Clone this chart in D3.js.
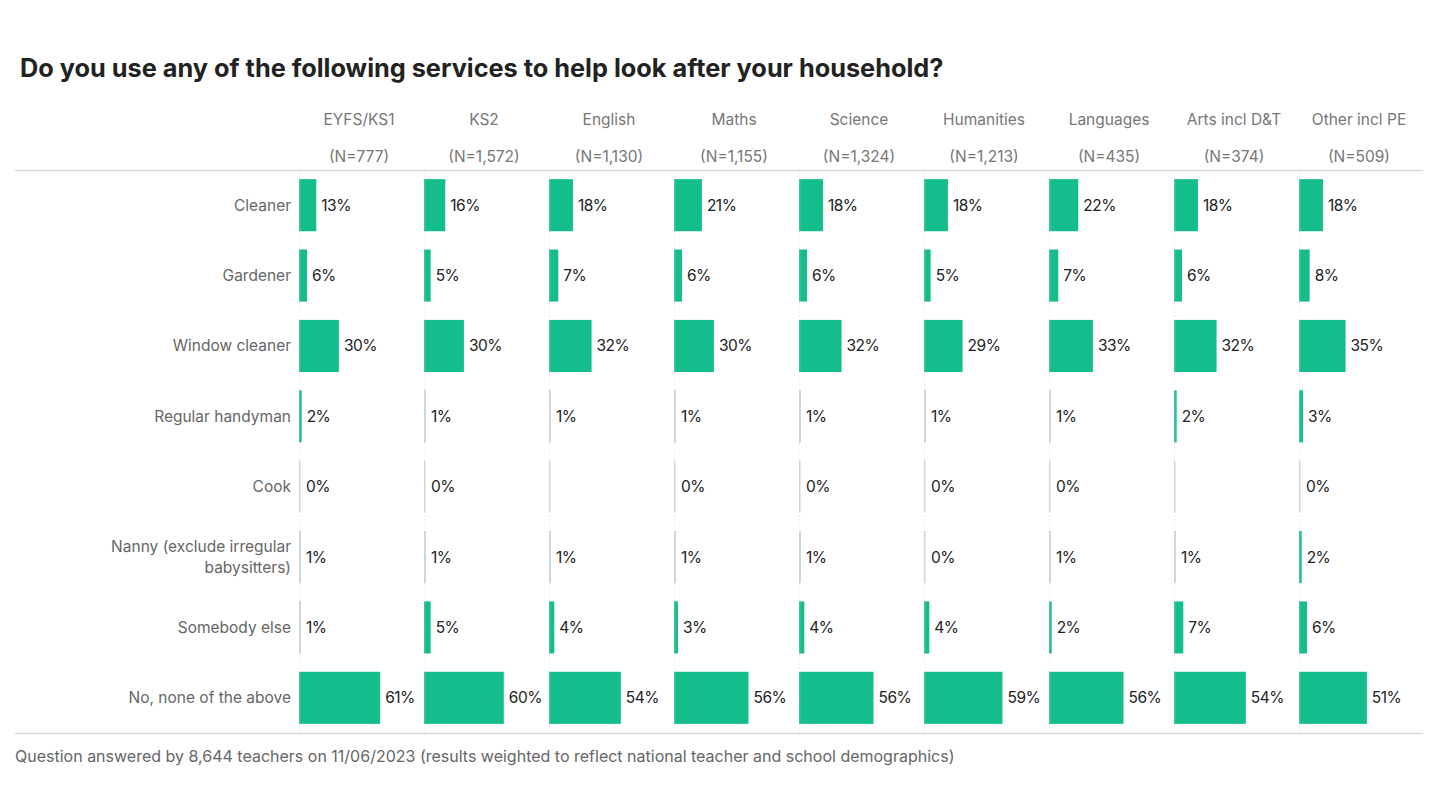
<!DOCTYPE html>
<html>
<head>
<meta charset="utf-8">
<script src="https://cdn.jsdelivr.net/npm/d3@7"></script>
<style>
  body { margin: 0; background: #fff; }
  text { font-family: "Inter", "Open Sans", sans-serif; }
</style>
</head>
<body>
<script>
// Data
const groups = ["EYFS/KS1", "KS2", "English", "Maths", "Science", "Humanities", "Languages", "Arts incl D&T", "Other incl PE"];
const groupN = ["(N=777)", "(N=1,572)", "(N=1,130)", "(N=1,155)", "(N=1,324)", "(N=1,213)", "(N=435)", "(N=374)", "(N=509)"];
const services = ["Cleaner", "Gardener", "Window cleaner", "Regular handyman", "Cook",
                  "Nanny (exclude irregular|babysitters)", "Somebody else", "No, none of the above"];

const cleaner   = [13, 16, 18, 21, 18, 18, 22, 18, 18];
const gardener  = [6, 5, 7, 6, 6, 5, 7, 6, 8];
const window_   = [30, 30, 32, 30, 32, 29, 33, 32, 35];
const handyman  = [2, 1, 1, 1, 1, 1, 1, 2, 3];
const cook      = [0, 0, null, 0, 0, 0, 0, null, 0];
const nanny     = [1, 1, 1, 1, 1, 0, 1, 1, 2];
const somebody  = [1, 5, 4, 3, 4, 4, 2, 7, 6];
const none      = [61, 60, 54, 56, 56, 59, 56, 54, 51];

const seriesRows = [cleaner, gardener, window_, handyman, cook, nanny, somebody, none];

const width = 1440, height = 785;
const green = "#14bd8c";

const svg = d3.select("body").append("svg")
  .attr("width", width)
  .attr("height", height);

// Title
svg.append("text")
  .attr("x", 20).attr("y", 77)
  .attr("font-size", 25.3).attr("font-weight", 700)
  .attr("fill", "#222")
  .text("Do you use any of the following services to help look after your household?");

const colX = d3.scaleBand().domain(groups).range([299, 1424]);
const rowY = d3.scaleBand().domain(services).range([170, 733]).paddingInner(0.26).paddingOuter(0.13);
const x = d3.scaleLinear().domain([0, 100]).range([0, 133]);

// Column headers
svg.selectAll(".head").data(groups).join("text")
  .attr("x", d => colX(d) + 60).attr("y", 125)
  .attr("text-anchor", "middle").attr("font-size", 15.5).attr("fill", "#777")
  .text(d => d);
svg.selectAll(".headn").data(groups).join("text")
  .attr("x", (d, i) => colX(d) + 60).attr("y", 162)
  .attr("text-anchor", "middle").attr("font-size", 15.5).attr("fill", "#777")
  .text((d, i) => groupN[i]);

// Horizontal rules
svg.append("line").attr("x1", 15).attr("x2", 1423).attr("y1", 170.5).attr("y2", 170.5)
  .attr("stroke", "#d9d9d9").attr("stroke-width", 1.5);
svg.append("line").attr("x1", 15).attr("x2", 1423).attr("y1", 733.5).attr("y2", 733.5)
  .attr("stroke", "#d9d9d9").attr("stroke-width", 1.5);

// Row labels
services.forEach(s => {
  const lines = s.split("|");
  const cy = rowY(s) + rowY.bandwidth() / 2;
  const t = svg.append("text")
    .attr("x", 291).attr("text-anchor", "end")
    .attr("font-size", 15.5).attr("fill", "#666");
  lines.forEach((l, i) => {
    t.append("tspan").attr("x", 291)
      .attr("y", cy + 5.5 + (i - (lines.length - 1) / 2) * 21)
      .text(l);
  });
});

// Cells
const cells = [];
seriesRows.forEach((vals, r) => {
  vals.forEach((v, c) => cells.push({ row: services[r], group: groups[c], value: v }));
});

const g = svg.append("g");

// faint column guides
g.selectAll(".guide").data(groups).join("line")
  .attr("x1", d => colX(d) + 0.5).attr("x2", d => colX(d) + 0.5)
  .attr("y1", 171).attr("y2", 733)
  .attr("stroke", "#f0f0f0").attr("stroke-width", 1)
  .attr("stroke-dasharray", "2,2");

g.selectAll(".bar").data(cells.filter(d => d.value != null && d.value > 0)).join("rect")
  .attr("x", d => colX(d.group))
  .attr("y", d => rowY(d.row))
  .attr("width", d => x(d.value))
  .attr("height", rowY.bandwidth())
  .attr("fill", green);

// axis segments per row
g.selectAll(".axis").data(cells).join("line")
  .attr("x1", d => colX(d.group) + 0.75).attr("x2", d => colX(d.group) + 0.75)
  .attr("y1", d => rowY(d.row)).attr("y2", d => rowY(d.row) + rowY.bandwidth())
  .attr("stroke", "#d4d4d4").attr("stroke-width", 1.5)
  .attr("stroke-opacity", d => d.value >= 2 ? 0.25 : 1);

g.selectAll(".val").data(cells.filter(d => d.value != null)).join("text")
  .attr("x", d => colX(d.group) + Math.max(x(d.value), 2) + 5)
  .attr("y", d => rowY(d.row) + rowY.bandwidth() / 2 + 5.5)
  .attr("font-size", 15.5).attr("fill", "#222")
  .attr("letter-spacing", -0.5)
  .text(d => d.value + "%");

// Footnote
svg.append("text")
  .attr("x", 15).attr("y", 762)
  .attr("font-size", 16).attr("fill", "#666")
  .text("Question answered by 8,644 teachers on 11/06/2023 (results weighted to reflect national teacher and school demographics)");
</script>
</body>
</html>
